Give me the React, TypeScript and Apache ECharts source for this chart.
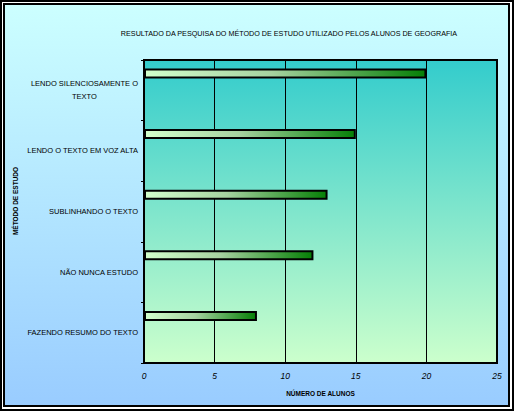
import React, { useEffect, useRef } from "react";
import * as echarts from "echarts";

const categories = [
  "LENDO SILENCIOSAMENTE O\nTEXTO",
  "LENDO O TEXTO EM VOZ ALTA",
  "SUBLINHANDO O TEXTO",
  "NÃO NUNCA ESTUDO",
  "FAZENDO RESUMO DO TEXTO",
];
const values = [20, 15, 13, 12, 8];
const emptyValues = ["-", "-", "-", "-", "-"];
const xTicks = [0, 5, 10, 15, 20, 25];

const titleText =
  "RESULTADO DA PESQUISA DO MÉTODO DE ESTUDO UTILIZADO PELOS ALUNOS DE GEOGRAFIA";
const xName = "NÚMERO DE ALUNOS";
const yName = "MÉTODO DE ESTUDO";

const FONT = "'Liberation Sans', Arial, sans-serif";

export default function App() {
  const ref = useRef<HTMLDivElement>(null);
  useEffect(() => {
    document.body.style.margin = "0";
    if (!ref.current) return;
    const chart = echarts.init(ref.current, undefined, { renderer: "svg" });
    const barGradient = new echarts.graphic.LinearGradient(0, 0, 1, 0, [
      { offset: 0, color: "#D2FFCC" },
      { offset: 0.45, color: "#A6D2A0" },
      { offset: 1, color: "#067F06" },
    ]);
    const plotGradient = new echarts.graphic.LinearGradient(0, 0, 0, 1, [
      { offset: 0, color: "#33CCCC" },
      { offset: 1, color: "#CCFFCC" },
    ]);
    const pageGradient = new echarts.graphic.LinearGradient(0, 0, 0, 1, [
      { offset: 0, color: "#CCFFFF" },
      { offset: 1, color: "#99CCFF" },
    ]);
    const labelSize = 7.5;
    const firstLine = categories[0].split("\n")[0];
    const firstWidth = echarts.format.getTextRect
      ? echarts.format.getTextRect(firstLine, `${labelSize}px ${FONT}`).width
      : 107;
    const yData = categories.map((c, i) =>
      i === 0
        ? {
            value: c,
            textStyle: { align: "center", padding: [0, firstWidth, 0, 0] },
          }
        : c
    );
    chart.setOption({
      animation: false,
      backgroundColor: "#ffffff",
      textStyle: { fontFamily: FONT },
      title: {
        text: titleText,
        left: 284,
        top: 25,
        textAlign: "center",
        textStyle: {
          fontFamily: FONT,
          fontSize: 7.2,
          fontWeight: "normal",
          color: "#000",
        },
      },
      graphic: [
        {
          type: "rect",
          z: -10,
          shape: { x: 1, y: 1, width: 512, height: 409 },
          style: { fill: "#fff", stroke: "#000", lineWidth: 2 },
        },
        {
          type: "rect",
          z: -9,
          shape: { x: 4, y: 4, width: 505, height: 402 },
          style: { fill: pageGradient, stroke: "#000", lineWidth: 2 },
        },
        {
          type: "text",
          z: 10,
          x: 15.5,
          y: 201,
          rotation: Math.PI / 2,
          style: {
            text: yName,
            fontFamily: FONT,
            fontSize: 6.5,
            fontWeight: "bold",
            fill: "#000",
            align: "center",
            verticalAlign: "middle",
          },
        },
      ],
      grid: {
        left: 144,
        top: 60,
        width: 353,
        height: 303,
        show: true,
        backgroundColor: plotGradient,
        borderColor: "#000",
        borderWidth: 2,
      },
      xAxis: {
        type: "value",
        min: xTicks[0],
        max: xTicks[xTicks.length - 1],
        interval: 5,
        name: xName,
        nameLocation: "middle",
        nameGap: 27,
        nameTextStyle: {
          fontFamily: FONT,
          fontSize: 6.5,
          fontWeight: "bold",
          color: "#000",
        },
        axisLine: { show: true, lineStyle: { color: "#000", width: 2 } },
        axisTick: { show: false },
        axisLabel: {
          color: "#000",
          fontStyle: "italic",
          fontSize: 8.5,
          margin: 8,
          fontFamily: FONT,
        },
        splitLine: { show: true, lineStyle: { color: "#000", width: 1 } },
      },
      yAxis: {
        type: "category",
        inverse: true,
        data: yData,
        axisLine: { show: true, lineStyle: { color: "#000", width: 2 } },
        axisTick: { show: true, length: 3, lineStyle: { color: "#000" } },
        axisLabel: {
          color: "#000",
          fontSize: labelSize,
          margin: 6,
          lineHeight: 13,
          fontFamily: FONT,
        },
        splitLine: { show: false },
      },
      series: [
        {
          type: "bar",
          data: values,
          barWidth: 10,
          barGap: "236%",
          itemStyle: {
            color: barGradient,
            borderColor: "#000",
            borderWidth: 2,
          },
        },
        {
          type: "bar",
          data: emptyValues,
          barWidth: 10,
        },
      ],
    });
    return () => chart.dispose();
  }, []);
  return <div ref={ref} style={{ width: 515, height: 412 }} />;
}
